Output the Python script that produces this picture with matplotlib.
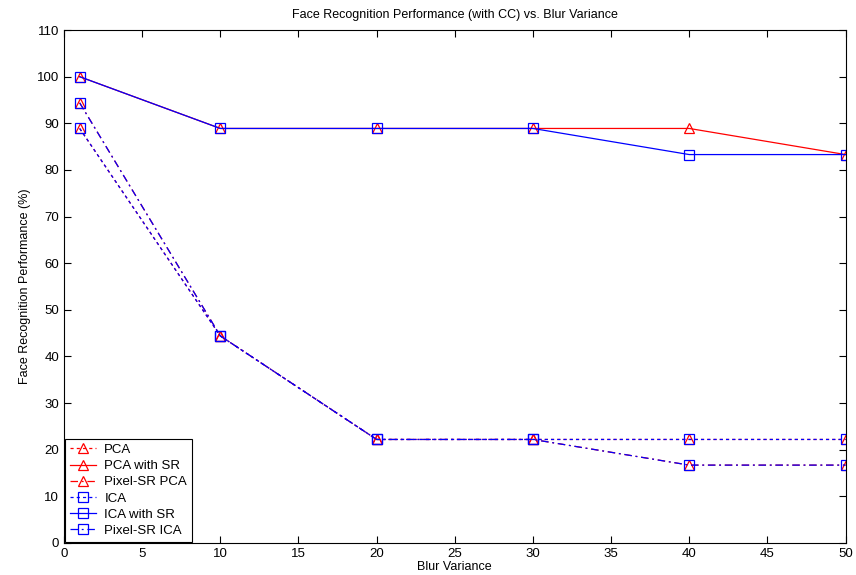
import matplotlib
matplotlib.use("Agg")
import matplotlib.pyplot as plt

plt.rcParams['font.family'] = ['Liberation Sans', 'DejaVu Sans']

blur = [1, 10, 20, 30, 40, 50]
pca = [88.9, 44.4, 22.2, 22.2, 22.2, 22.2]
pca_sr = [100, 88.9, 88.9, 88.9, 88.9, 83.3]
pixel_pca = [94.4, 44.4, 22.2, 22.2, 16.7, 16.7]
ica = [88.9, 44.4, 22.2, 22.2, 22.2, 22.2]
ica_sr = [100, 88.9, 88.9, 88.9, 83.3, 83.3]
pixel_ica = [94.4, 44.4, 22.2, 22.2, 16.7, 16.7]

fig = plt.figure(figsize=(8.56, 5.75), dpi=100)
ax = fig.add_axes([0.0748, 0.0557, 0.913, 0.892])

red = '#ff0000'
blue = '#0000ff'
dot = (0, (2.5, 2.5))
dashdot = (0, (6, 3, 1.5, 3))
kw = dict(linewidth=0.9, markerfacecolor='none', markeredgewidth=0.9, markersize=7)
ax.plot(blur, pca, linestyle=dot, marker='^', color=red, label='PCA', **kw)
ax.plot(blur, pca_sr, linestyle='-', marker='^', color=red, label='PCA with SR', **kw)
ax.plot(blur, pixel_pca, linestyle=dashdot, marker='^', color=red, label='Pixel-SR PCA', **kw)
ax.plot(blur, ica, linestyle=dot, marker='s', color=blue, label='ICA', **kw)
ax.plot(blur, ica_sr, linestyle='-', marker='s', color=blue, label='ICA with SR', **kw)
ax.plot(blur, pixel_ica, linestyle=dashdot, marker='s', color=blue, label='Pixel-SR ICA', **kw)

ax.set_xlim(0, 50)
ax.set_ylim(0, 110)
ax.set_xticks(range(0, 51, 5))
ax.set_yticks(range(0, 111, 10))
ax.tick_params(direction='in', top=True, right=True, labelsize=9.5, length=5, width=0.8)
for s in ax.spines.values():
    s.set_linewidth(0.8)

ax.set_title('Face Recognition Performance (with CC) vs. Blur Variance', fontsize=9, pad=9)
ax.set_xlabel('Blur Variance', fontsize=9, labelpad=1)
ax.set_ylabel('Face Recognition Performance (%)', fontsize=9)

leg = ax.legend(loc='lower left', fontsize=9.5, fancybox=False, framealpha=1,
                edgecolor='black', borderaxespad=0.1, handlelength=2.0,
                handletextpad=0.6, labelspacing=0.3, borderpad=0.35)
leg.get_frame().set_linewidth(0.8)

fig.savefig('out.png', dpi=100)
